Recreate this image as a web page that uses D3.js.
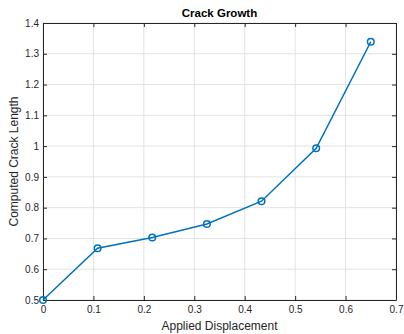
<!DOCTYPE html>
<html><head><meta charset="utf-8">
<script src="https://cdn.jsdelivr.net/npm/d3@7"></script>
<style>body{margin:0;background:#fff;}svg{display:block;}text{font-family:"Liberation Sans",Arial,sans-serif;}</style>
</head><body>
<script>
const displacement = [0, 0.1083, 0.2167, 0.325, 0.4333, 0.5417, 0.65];
const crackLength = [0.5, 0.668, 0.703, 0.747, 0.821, 0.993, 1.339];
const xTicks = [0, 0.1, 0.2, 0.3, 0.4, 0.5, 0.6, 0.7];
const yTicks = [0.5, 0.6, 0.7, 0.8, 0.9, 1, 1.1, 1.2, 1.3, 1.4];

const W = 404, H = 334;
const m = {left: 43, right: 8, top: 23, bottom: 34};
const svg = d3.select("body").append("svg").attr("width", W).attr("height", H);
const x = d3.scaleLinear().domain([0, 0.7]).range([m.left, W - m.right]);
const y = d3.scaleLinear().domain([0.5, 1.4]).range([H - m.bottom, m.top]);
const fmt = d => String(+d.toFixed(1));

const g = svg.append("g");
// grid
g.selectAll(".gx").data(xTicks).join("line")
  .attr("x1", d => x(d)).attr("x2", d => x(d)).attr("y1", y(0.5)).attr("y2", y(1.4))
  .attr("stroke", "#e3e3e3").attr("stroke-width", 1);
g.selectAll(".gy").data(yTicks).join("line")
  .attr("y1", d => y(d)).attr("y2", d => y(d)).attr("x1", x(0)).attr("x2", x(0.7))
  .attr("stroke", "#e3e3e3").attr("stroke-width", 1);

// axes
const axB = d3.axisBottom(x).tickValues(xTicks).tickFormat(fmt).tickSizeInner(-4).tickSizeOuter(0).tickPadding(6);
const axL = d3.axisLeft(y).tickValues(yTicks).tickFormat(fmt).tickSizeInner(-4).tickSizeOuter(0).tickPadding(4);
const axT = d3.axisTop(x).tickValues(xTicks).tickFormat("").tickSizeInner(-4).tickSizeOuter(0);
const axR = d3.axisRight(y).tickValues(yTicks).tickFormat("").tickSizeInner(-4).tickSizeOuter(0);
function style(sel){
  sel.selectAll("path").attr("stroke", "#262626");
  sel.selectAll("line").attr("stroke", "#262626");
  sel.selectAll("text").attr("fill", "#262626").style("font-size", "10px");
}
svg.append("g").attr("transform", `translate(0,${y(0.5)})`).call(axB).call(style);
svg.append("g").attr("transform", `translate(${x(0)},0)`).call(axL).call(style);
svg.append("g").attr("transform", `translate(0,${y(1.4)})`).call(axT).call(style);
svg.append("g").attr("transform", `translate(${x(0.7)},0)`).call(axR).call(style);

// data
const pts = displacement.map((d, i) => [d, crackLength[i]]);
svg.append("path").datum(pts)
  .attr("d", d3.line().x(d => x(d[0])).y(d => y(d[1])))
  .attr("fill", "none").attr("stroke", "#0072BD").attr("stroke-width", 1.5);
svg.selectAll(".pt").data(pts).join("circle")
  .attr("cx", d => x(d[0])).attr("cy", d => y(d[1])).attr("r", 3.3)
  .attr("fill", "none").attr("stroke", "#0072BD").attr("stroke-width", 1.5);

// labels
svg.append("text").attr("x", (x(0) + x(0.7)) / 2).attr("y", 17).attr("text-anchor", "middle")
  .style("font-size", "11.5px").style("font-weight", "bold").attr("fill", "#000").text("Crack Growth");
svg.append("text").attr("x", (x(0) + x(0.7)) / 2).attr("y", 330).attr("text-anchor", "middle")
  .style("font-size", "12px").attr("fill", "#262626").text("Applied Displacement");
svg.append("text").attr("transform", `translate(17.5,${(y(0.5) + y(1.4)) / 2}) rotate(-90)`).attr("text-anchor", "middle")
  .style("font-size", "12px").attr("fill", "#262626").text("Computed Crack Length");
</script>
</body></html>
